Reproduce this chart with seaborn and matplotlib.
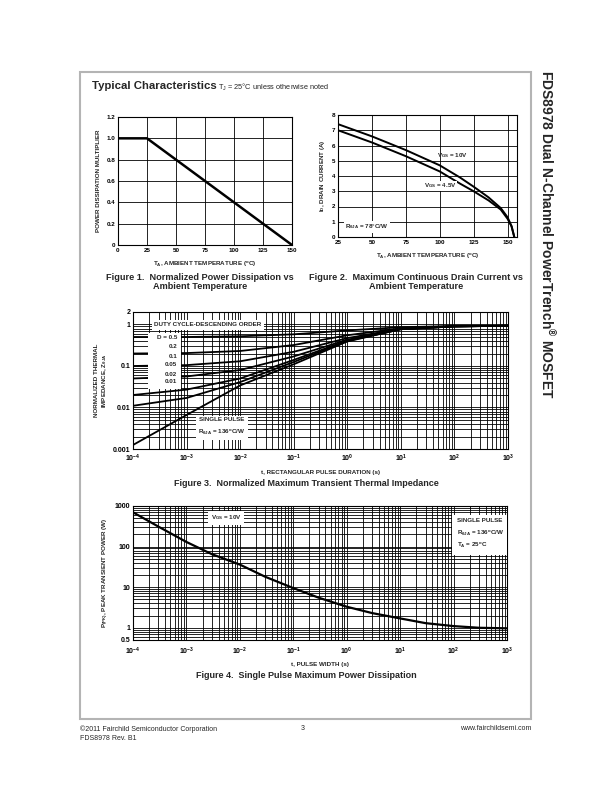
"""
Datasheet page: typical characteristics of a dual N-channel MOSFET (4 figures).
"""
import numpy as np
import pandas as pd
import matplotlib
matplotlib.use("Agg")
import matplotlib.pyplot as plt
from matplotlib.patches import Rectangle
from matplotlib.ticker import LogLocator, NullFormatter, FixedLocator
import seaborn as sns

# ---- data ----
# Figure 1: power derating
fig1_temp = [0, 25, 150]
fig1_mult = [1.0, 1.0, 0.0]

# Figure 2: max continuous drain current vs ambient temp
fig2_temp = [25, 50, 75, 100, 115, 125, 136, 145, 150, 153, 155]
fig2_id_10v = [7.4, 6.6, 5.7, 4.7, 3.9, 3.3, 2.6, 1.9, 1.3, 0.7, 0.0]
fig2_id_45v = [7.0, 6.2, 5.3, 4.3, 3.5, 3.0, 2.4, 1.8, 1.2, 0.7, 0.0]

# Figure 3: normalized transient thermal impedance
fig3_t = [1e-4, 1e-3, 1e-2, 1e-1, 1e0, 1e1, 1e2, 1e3]
fig3_z = {
    "0.5": [0.5, 0.5, 0.52, 0.58, 0.72, 0.86, 0.92, 0.93],
    "0.2": [0.2, 0.205, 0.23, 0.32, 0.55, 0.81, 0.91, 0.93],
    "0.1": [0.1, 0.105, 0.13, 0.22, 0.47, 0.79, 0.9, 0.93],
    "0.05": [0.05, 0.056, 0.08, 0.17, 0.43, 0.78, 0.9, 0.93],
    "0.02": [0.02, 0.027, 0.05, 0.14, 0.41, 0.77, 0.9, 0.93],
    "0.01": [0.011, 0.017, 0.041, 0.125, 0.4, 0.77, 0.9, 0.93],
    "single": [0.00125, 0.0066, 0.034, 0.11, 0.39, 0.77, 0.9, 0.93],
}

# Figure 4: single pulse peak power
fig4_t = [1e-4, 3e-4, 1e-3, 3e-3, 1e-2, 3e-2, 1e-1, 3e-1, 1e0, 3e0, 1e1, 3e1, 1e2, 3e2, 1e3]
fig4_p = [700, 310, 130, 65, 36, 18, 9.5, 5.5, 3.3, 2.3, 1.7, 1.3, 1.1, 1.0, 0.97]

W, H = 612, 792


def px(x, y):
    return x / W, 1 - y / H


def box(x0, y0, x1, y1):
    l, t = px(x0, y0)
    r, b = px(x1, y1)
    return [l, b, r - l, t - b]


def style_axes(ax, fs=4.5, xpad=2):
    for s in ax.spines.values():
        s.set_color("black")
        s.set_linewidth(0.8)
    ax.tick_params(axis="both", which="both", labelsize=fs, length=2, width=0.6,
                   direction="in", pad=2, colors="black")
    ax.tick_params(axis="x", which="both", pad=xpad)
    for lab in ax.get_xticklabels() + ax.get_yticklabels():
        lab.set_fontweight("bold")


sns.set_theme(style="white")
plt.rcParams["font.family"] = ["Liberation Sans", "DejaVu Sans"]
plt.rcParams["mathtext.fontset"] = "custom"
plt.rcParams["mathtext.rm"] = "Liberation Sans"
plt.rcParams["mathtext.it"] = "Liberation Sans:italic"
plt.rcParams["mathtext.bf"] = "Liberation Sans:bold"
plt.rcParams["mathtext.default"] = "bf"

fig = plt.figure(figsize=(W / 100, H / 100), dpi=100)
fig.patch.set_facecolor("white")

# page frame
fig.patches.append(Rectangle(px(80, 719), 451 / W, 647 / H, transform=fig.transFigure,
                             fill=False, edgecolor="#b4b4b4", lw=1.5))

# header
fig.text(*px(92, 86), "Typical Characteristics", fontsize=8.2, fontweight="bold", va="center")
fig.text(*px(218, 87), r"T$_\mathregular{J}$ = 25°C unless otherwise noted", fontsize=5.3, va="center")

# side title
fig.text(*px(547, 70), "FDS8978 Dual N-Channel PowerTrench$^{®}$ MOSFET",
         fontsize=10, fontweight="bold", rotation=-90, ha="center", va="top")

# ---- Figure 1 ----
ax1 = fig.add_axes(box(118, 117, 292, 245))
sns.lineplot(x=fig1_temp, y=fig1_mult, ax=ax1, color="black", lw=1.8)
ax1.set_xlim(0, 150)
ax1.set_ylim(0, 1.2)
ax1.set_xticks([0, 25, 50, 75, 100, 125, 150])
ax1.set_yticks([0, 0.2, 0.4, 0.6, 0.8, 1.0, 1.2])
ax1.set_yticklabels(["0", "0.2", "0.4", "0.6", "0.8", "1.0", "1.2"])
ax1.grid(True, color="black", lw=0.6)
style_axes(ax1)
ax1.set_xlabel(r"T$_A$, AMBIENT TEMPERATURE ($^o$C)", fontsize=4.5, fontweight="bold", labelpad=5)
ax1.set_ylabel("POWER DISSIPATION MULTIPLIER", fontsize=4.5, fontweight="bold", labelpad=4)
fig.text(*px(200, 282), "Figure 1.  Normalized Power Dissipation vs\nAmbient Temperature",
         fontsize=6.6, fontweight="bold", ha="center", va="center", linespacing=1.1)

# ---- Figure 2 ----
ax2 = fig.add_axes(box(338, 115, 517, 237))
sns.lineplot(x=fig2_temp, y=fig2_id_10v, ax=ax2, color="black", lw=1.4)
sns.lineplot(x=fig2_temp, y=fig2_id_45v, ax=ax2, color="black", lw=1.4)
ax2.set_xlim(25, 157)
ax2.set_ylim(0, 8)
ax2.set_xticks([25, 50, 75, 100, 125, 150])
ax2.set_yticks(range(0, 9))
ax2.grid(True, color="black", lw=0.6)
style_axes(ax2)
ax2.set_xlabel(r"T$_A$, AMBIENT TEMPERATURE ($^o$C)", fontsize=4.5, fontweight="bold", labelpad=5)
ax2.set_ylabel(r"I$_D$, DRAIN CURRENT (A)", fontsize=4.5, fontweight="bold", labelpad=3)
fig.text(*px(437, 156), r"V$_{GS}$ = 10V", fontsize=4.5, fontweight="bold", ha="left", va="center")
fig.text(*px(424, 186), r"V$_{GS}$ = 4.5V", fontsize=4.5, fontweight="bold", ha="left", va="center",
         bbox=dict(facecolor="white", edgecolor="none", pad=0.5))
fig.text(*px(345, 227), r"R$_{\theta JA}$ = 78°C/W", fontsize=4.5, fontweight="bold", ha="left",
         va="center", bbox=dict(facecolor="white", edgecolor="none", pad=1))
fig.text(*px(416, 282), "Figure 2.  Maximum Continuous Drain Current vs\nAmbient Temperature",
         fontsize=6.6, fontweight="bold", ha="center", va="center", linespacing=1.1)

# ---- Figure 3 ----
ax3 = fig.add_axes(box(133, 312, 508, 449))
rows = []
for d, zs in fig3_z.items():
    for t, z in zip(fig3_t, zs):
        rows.append({"t": t, "z": z, "D": d})
df3 = pd.DataFrame(rows)
sns.lineplot(data=df3, x="t", y="z", hue="D", ax=ax3, legend=False,
             palette=["black"] * len(fig3_z), lw=1.3)
ax3.set_xscale("log")
ax3.set_yscale("log")
ax3.set_xlim(1e-4, 1e3)
ax3.set_ylim(0.001, 2)
ax3.xaxis.set_major_locator(LogLocator(base=10, numticks=20))
ax3.xaxis.set_minor_locator(LogLocator(base=10, subs=np.arange(2, 10), numticks=20))
ax3.yaxis.set_major_locator(FixedLocator([0.001, 0.01, 0.1, 1, 2]))
ax3.yaxis.set_minor_locator(LogLocator(base=10, subs=np.arange(2, 10), numticks=20))
ax3.yaxis.set_minor_formatter(NullFormatter())
ax3.set_yticklabels(["0.001", "0.01", "0.1", "1", "2"])
ax3.grid(True, which="both", color="black", lw=0.6)
style_axes(ax3, fs=5, xpad=3)
ax3.set_xlabel("t, RECTANGULAR PULSE DURATION (s)", fontsize=4.5, fontweight="bold", labelpad=4)
ax3.set_ylabel("NORMALIZED THERMAL\n" + r"IMPEDANCE, Z$_{\theta JA}$", fontsize=4.5,
               fontweight="bold", labelpad=3, linespacing=1.2)
fig.text(*px(208, 325), "DUTY CYCLE-DESCENDING ORDER", fontsize=4.5, fontweight="bold",
         ha="center", va="center", bbox=dict(facecolor="white", edgecolor="none", pad=2))
fig.patches.append(Rectangle(px(148, 389), 33 / W, 56 / H, transform=fig.transFigure,
                             facecolor="white", edgecolor="none", zorder=5))
for lab, yy in zip(["D = 0.5", "0.2", "0.1", "0.05", "0.02", "0.01"],
                   [338, 347, 356, 365, 374, 382]):
    fig.text(*px(177, yy), lab, fontsize=4.5, fontweight="bold", ha="right", va="center", zorder=6)
fig.text(*px(222, 427), "SINGLE PULSE\n" + r"R$_{\theta JA}$ = 136$^o$C/W", fontsize=4.5,
         fontweight="bold", ha="center", va="center", linespacing=2.0,
         bbox=dict(facecolor="white", edgecolor="none", pad=2))
fig.text(*px(306, 483), "Figure 3.  Normalized Maximum Transient Thermal Impedance",
         fontsize=6.5, fontweight="bold", ha="center", va="center")

# ---- Figure 4 ----
ax4 = fig.add_axes(box(133, 506, 507, 640))
sns.lineplot(x=fig4_t, y=fig4_p, ax=ax4, color="black", lw=1.6)
ax4.set_xscale("log")
ax4.set_yscale("log")
ax4.set_xlim(1e-4, 1e3)
ax4.set_ylim(0.5, 1000)
ax4.xaxis.set_major_locator(LogLocator(base=10, numticks=20))
ax4.xaxis.set_minor_locator(LogLocator(base=10, subs=np.arange(2, 10), numticks=20))
ax4.yaxis.set_major_locator(FixedLocator([0.5, 1, 10, 100, 1000]))
ax4.yaxis.set_minor_locator(LogLocator(base=10, subs=np.arange(2, 10), numticks=20))
ax4.yaxis.set_minor_formatter(NullFormatter())
ax4.set_yticklabels(["0.5", "1", "10", "100", "1000"])
ax4.grid(True, which="both", color="black", lw=0.6)
style_axes(ax4, fs=5, xpad=4)
ax4.set_xlabel("t, PULSE WIDTH (s)", fontsize=4.5, fontweight="bold", labelpad=4)
ax4.set_ylabel(r"P$_{(PK)}$, PEAK TRANSIENT POWER (W)", fontsize=4.5, fontweight="bold", labelpad=3)
fig.text(*px(226, 518), r"V$_{GS}$ = 10V", fontsize=4.5, fontweight="bold", ha="center",
         va="center", bbox=dict(facecolor="white", edgecolor="none", pad=2))
fig.patches.append(Rectangle(px(452, 555), 55 / W, 40 / H, transform=fig.transFigure,
                             facecolor="white", edgecolor="none", zorder=5))
for lab, yy in zip(["SINGLE PULSE", r"R$_{\theta JA}$ = 136$^o$C/W", r"T$_A$ = 25$^o$C"],
                   [521, 533, 545]):
    fig.text(*px(457, yy), lab, fontsize=4.5, fontweight="bold", ha="left", va="center", zorder=6)
fig.text(*px(306, 675), "Figure 4.  Single Pulse Maximum Power Dissipation",
         fontsize=6.5, fontweight="bold", ha="center", va="center")

# footer
fig.text(*px(80, 729), "©2011 Fairchild Semiconductor Corporation", fontsize=5, va="center")
fig.text(*px(80, 738), "FDS8978 Rev. B1", fontsize=5, va="center")
fig.text(*px(303, 729), "3", fontsize=5, ha="center", va="center")
fig.text(*px(531, 729), "www.fairchildsemi.com", fontsize=5, ha="right", va="center")

fig.savefig("out.png", dpi=100)
